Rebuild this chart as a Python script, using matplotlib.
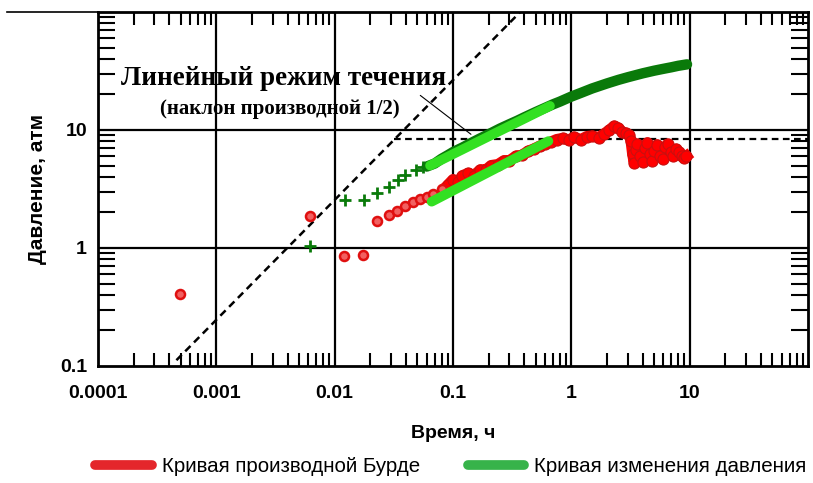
import matplotlib.pyplot as plt
from matplotlib.lines import Line2D
from matplotlib.ticker import LogLocator, NullFormatter, FixedLocator, FixedFormatter

# early sparse points
red_t_sparse = [0.00049, 0.0062, 0.0120, 0.0173, 0.0228, 0.0288, 0.0336, 0.0394,
                0.0461, 0.0529, 0.0604, 0.068, 0.081]
red_p_sparse = [0.41, 1.88, 0.85, 0.87, 1.70, 1.91, 2.07, 2.29,
                2.47, 2.62, 2.73, 2.89, 3.19]

green_t_sparse = [0.0062, 0.01225, 0.0177, 0.0228, 0.0288, 0.0344, 0.0394, 0.0488, 0.0558]
green_p_sparse = [1.04, 2.57, 2.57, 2.95, 3.32, 3.74, 4.12, 4.55, 4.83]

# dense part of the Bourdet derivative
red_t = [0.09, 0.1, 0.11, 0.12, 0.135, 0.15, 0.17, 0.19, 0.21, 0.24, 0.27, 0.3,
         0.34, 0.38, 0.43, 0.48, 0.54, 0.6, 0.67, 0.75, 0.85, 0.95, 1.05, 1.2,
         1.35, 1.5, 1.7, 1.9, 2.1, 2.3, 2.5, 2.7, 2.9, 3.1, 3.2, 3.3, 3.4, 3.5,
         3.6, 3.8, 4.0, 4.2, 4.4, 4.6, 4.8, 5.0, 5.3, 5.6, 5.9, 6.2, 6.5, 6.9,
         7.3, 7.7, 8.1, 8.6, 9.0, 9.4]
red_p = [3.4, 3.8, 3.6, 4.1, 4.3, 4.1, 4.6, 4.6, 5.0, 5.1, 5.5, 5.5,
         6.0, 6.1, 6.6, 6.9, 7.3, 7.6, 7.9, 8.3, 8.5, 8.2, 8.7, 8.3,
         8.8, 8.9, 8.6, 9.3, 10.0, 10.8, 10.4, 9.6, 9.4, 9.0, 8.0, 6.2, 5.3, 6.8,
         7.6, 6.0, 5.4, 7.0, 7.8, 6.2, 5.5, 6.6, 7.5, 6.0, 5.7, 7.2, 7.6, 6.5,
         6.0, 6.9, 6.5, 6.0, 5.8, 6.0]

# dense part of the pressure change
green_t = [0.06, 0.07, 0.08, 0.09, 0.1, 0.12, 0.14, 0.17, 0.2, 0.25, 0.3, 0.35,
           0.4, 0.5, 0.6, 0.7, 0.8, 1.0, 1.2, 1.5, 2.0, 2.5, 3.0, 4.0, 5.0,
           6.0, 7.0, 8.0, 9.5]
green_p = [4.9, 5.2, 5.7, 6.1, 6.5, 7.1, 7.7, 8.5, 9.2, 10.3, 11.2, 12.0,
           12.8, 14.2, 15.4, 16.5, 17.4, 19.2, 20.6, 22.5, 24.8, 26.6, 28.0, 30.2, 31.8,
           33.0, 34.0, 35.0, 36.0]

# half-slope fits (end points)
fit_up_t = [0.064, 0.66]
fit_up_p = [5.0, 16.0]
fit_lo_t = [0.066, 0.64]
fit_lo_p = [2.47, 8.05]

# unit slope line and plateau line
slope_t = [0.00046, 0.37]
slope_p = [0.112, 100]
plateau_t = [0.032, 100]
plateau_p = [8.4, 8.4]

xticks = [0.0001, 0.001, 0.01, 0.1, 1, 10]
xtick_labels = ['0.0001', '0.001', '0.01', '0.1', '1', '10']
yticks = [0.1, 1, 10]
ytick_labels = ['0.1', '1', '10']

RED = '#ff0000'
DARK_RED = '#c81010'
DARK_GREEN = '#0a7a0a'
LIGHT_GREEN = '#33e022'

plt.rcParams['font.family'] = ['Liberation Sans', 'DejaVu Sans']

fig = plt.figure(figsize=(8.13, 4.83), dpi=100)
ax = fig.add_axes([98 / 813, 1 - 366 / 483, 710 / 813, 354 / 483])
ax.set_xscale('log')
ax.set_yscale('log')
ax.set_xlim(0.0001, 100)
ax.set_ylim(0.1, 100)

# grid at decades
for t in [0.001, 0.01, 0.1, 1, 10]:
    ax.axvline(t, color='black', lw=1.6, zorder=1)
for p in [1, 10]:
    ax.axhline(p, color='black', lw=1.6, zorder=1)

ax.plot(slope_t, slope_p, color='black', lw=1.8, dashes=(3, 2), zorder=2)
ax.plot(plateau_t, plateau_p, color='black', lw=1.6, dashes=(3, 2), zorder=2)

# pressure change
ax.plot(green_t, green_p, color=DARK_GREEN, lw=7.5, zorder=3, solid_capstyle='round')
ax.plot(green_t_sparse, green_p_sparse, '+', color=DARK_GREEN, ms=8, mew=2, zorder=3)

# derivative
ax.plot(red_t, red_p, color=RED, lw=8, zorder=3)
ax.plot(red_t, red_p, 'o', mfc=RED, mec=DARK_RED, ms=8, mew=0.8, zorder=3)
ax.plot(red_t_sparse, red_p_sparse, 'o', mfc='#f26060', mec='#e01010', ms=6.5,
        mew=1.8, zorder=3)

# half slope fits
ax.plot(fit_up_t, fit_up_p, color=LIGHT_GREEN, lw=7, solid_capstyle='round', zorder=4)
ax.plot(fit_lo_t, fit_lo_p, color=LIGHT_GREEN, lw=7, solid_capstyle='round', zorder=4)

ax.annotate('', xy=(0.148, 8.9), xytext=(0.0507, 20.3),
            arrowprops=dict(arrowstyle='-', lw=0.8, color='black'), zorder=5)
ax.text(0.00367, 27.3, 'Линейный режим течения', family='Liberation Serif',
        fontweight='bold', fontsize=19.5, ha='center', va='center', zorder=5)
ax.text(0.00347, 15.1, '(наклон производной 1/2)', family='Liberation Serif',
        fontweight='bold', fontsize=15, ha='center', va='center', zorder=5)

for s in ax.spines.values():
    s.set_linewidth(2)

ax.xaxis.set_major_locator(FixedLocator(xticks))
ax.xaxis.set_major_formatter(FixedFormatter(xtick_labels))
ax.yaxis.set_major_locator(FixedLocator(yticks))
ax.yaxis.set_major_formatter(FixedFormatter(ytick_labels))
ax.xaxis.set_minor_locator(LogLocator(base=10, subs=range(2, 10), numticks=20))
ax.yaxis.set_minor_locator(LogLocator(base=10, subs=range(2, 10), numticks=20))
ax.xaxis.set_minor_formatter(NullFormatter())
ax.yaxis.set_minor_formatter(NullFormatter())

ax.tick_params(which='major', length=0, labelsize=14, pad=14)
ax.tick_params(axis='y', which='major', pad=8)
ax.tick_params(axis='x', which='minor', direction='in', length=9.5, width=1.5,
               top=True, bottom=True)
ax.tick_params(axis='y', which='minor', direction='in', length=12.5, width=1.5,
               left=True, right=True)
for lbl in ax.get_xticklabels() + ax.get_yticklabels():
    lbl.set_fontweight('bold')

ax.set_xlabel('Время, ч', fontsize=14, fontweight='bold', labelpad=16)
ax.set_ylabel('Давление, атм', fontsize=15, fontweight='bold', labelpad=9)

# line running left from the top border
fig.add_artist(Line2D([7 / 813, 98 / 813], [1 - 12 / 483, 1 - 12 / 483],
                      color='black', lw=1.2))

handles = [Line2D([], [], color='#e4262b', lw=7, solid_capstyle='round'),
           Line2D([], [], color='#37b34a', lw=7, solid_capstyle='round')]
fig.legend(handles, ['Кривая производной Бурде', 'Кривая изменения давления'],
           loc='center', bbox_to_anchor=(451 / 813, 1 - 467 / 483), ncol=2,
           frameon=False, fontsize=14.8, handlelength=2.75, handletextpad=0.5,
           columnspacing=2.3, borderpad=0)

fig.savefig('out.png', dpi=100)
